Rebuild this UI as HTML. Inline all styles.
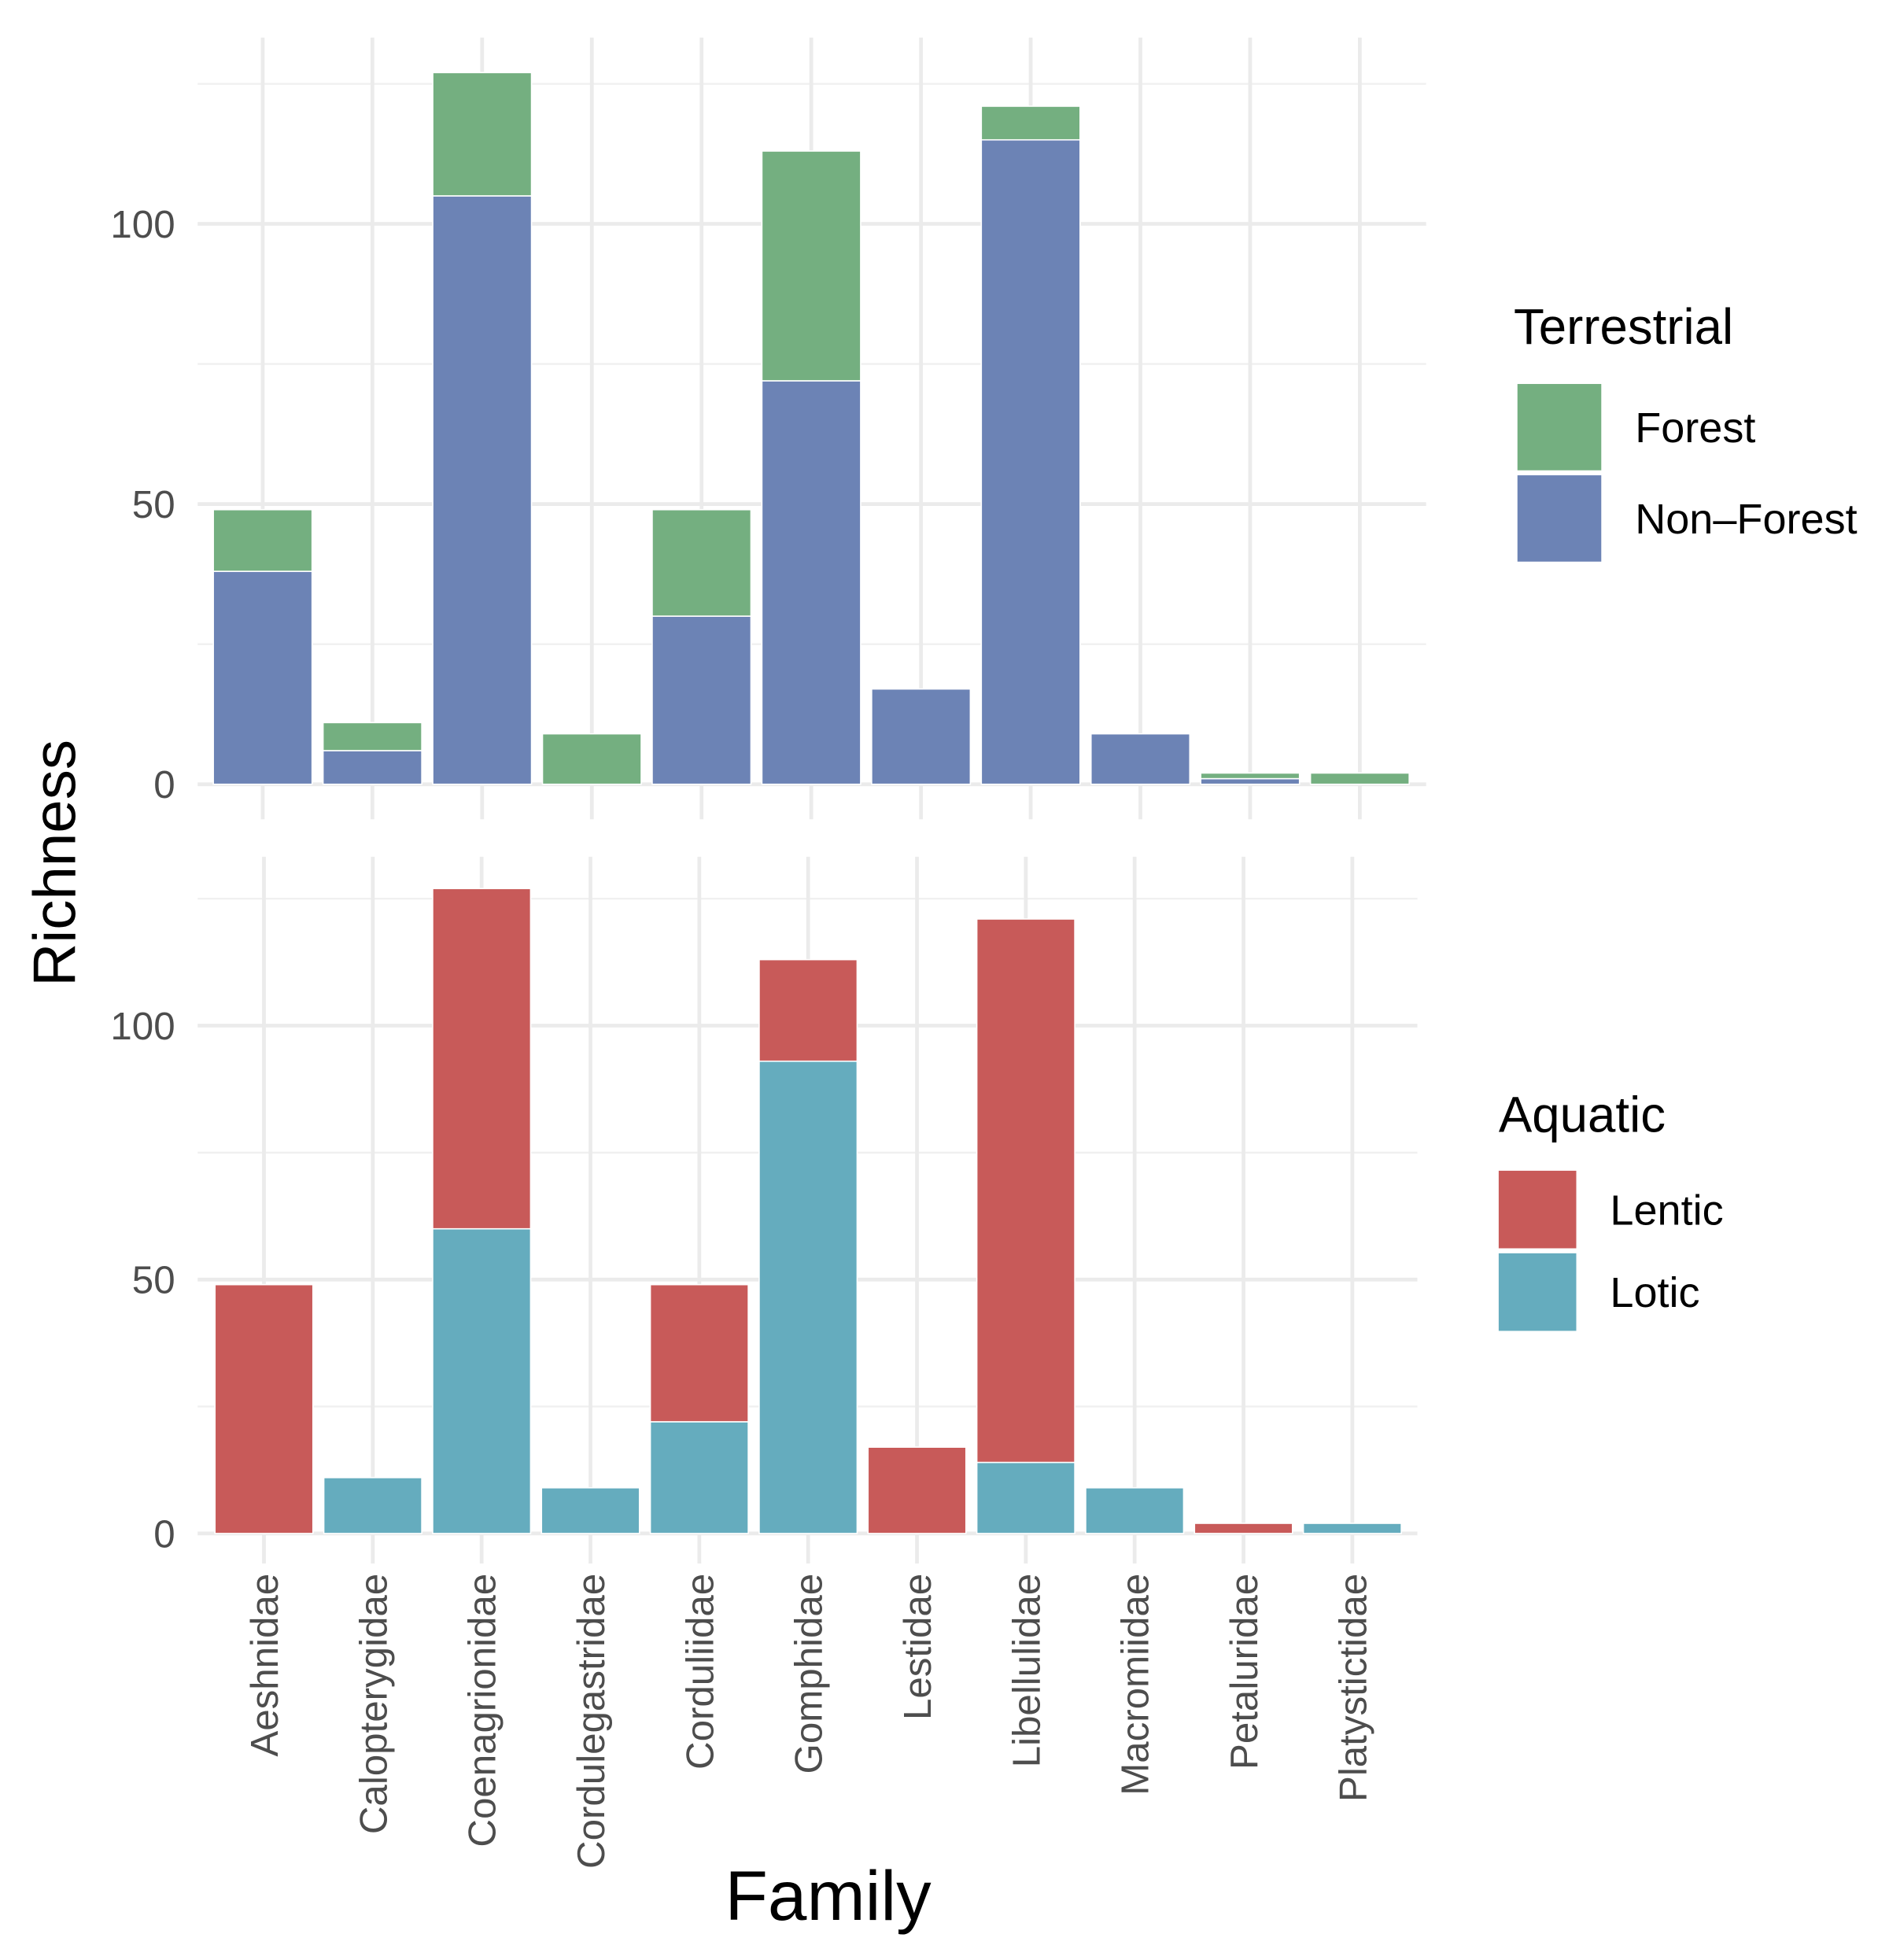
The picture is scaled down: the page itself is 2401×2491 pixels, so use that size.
<!DOCTYPE html>
<html><head><meta charset="utf-8"><style>html,body{margin:0;padding:0;background:#fff}svg{display:block}</style></head>
<body>
<svg id="chart" width="2401" height="2491" viewBox="0 0 1510 1567" preserveAspectRatio="none" xmlns="http://www.w3.org/2000/svg" font-family="Liberation Sans, sans-serif"></svg>
<script>
const families = ["Aeshnidae","Calopterygidae","Coenagrionidae","Cordulegastridae","Corduliidae","Gomphidae","Lestidae","Libellulidae","Macromiidae","Petaluridae","Platystictidae"];
const nonForest = [38,6,105,0,30,72,17,115,9,1,0];
const forest = [11,5,22,9,19,41,0,6,0,1,2];
const lotic = [0,11,60,9,22,93,0,14,9,0,2];
const lentic = [49,0,67,0,27,20,17,107,0,2,0];
const yTicks = [0,50,100];
const yMinor = [25,75,125];

const NS="http://www.w3.org/2000/svg";
const svg=document.getElementById('chart');
function mk(tag,attrs,parent,text){const e=document.createElementNS(NS,tag);for(const k in attrs)e.setAttribute(k,attrs[k]);if(text!==undefined)e.textContent=text;(parent||svg).appendChild(e);return e;}

function panel(cfg){
  const g=mk('g',{});
  
  
  const y=v=>cfg.y0-(v*cfg.pxPer);
  const x=i=>cfg.x0+i*cfg.step;
  yMinor.forEach(v=>{const l=mk('line',{x1:cfg.left,x2:cfg.right,y1:y(v),y2:y(v),stroke:'#f0f0f0','stroke-width':1.5},g);});
  yTicks.forEach(v=>{const l=mk('line',{x1:cfg.left,x2:cfg.right,y1:y(v),y2:y(v),stroke:'#ebebeb','stroke-width':3},g);
    const t=mk('text',{x:cfg.left-18,y:y(v)+11,'text-anchor':'end','font-size':31,fill:'#4d4d4d'},g,String(v));});
  families.forEach((f,i)=>{const l=mk('line',{x1:x(i),x2:x(i),y1:cfg.gTop,y2:cfg.gBot,stroke:'#ebebeb','stroke-width':3},g);});
  const w=cfg.step*0.9;
  families.forEach((f,i)=>{
    const a=cfg.lower[i], b=cfg.upper[i];
    if(a>0){const r=mk('rect',{x:x(i)-w/2,y:y(a),width:w,height:a*cfg.pxPer,fill:cfg.lowerColor,stroke:'#fff','stroke-width':1},g);}
    if(b>0){const r=mk('rect',{x:x(i)-w/2,y:y(a+b),width:w,height:b*cfg.pxPer,fill:cfg.upperColor,stroke:'#fff','stroke-width':1},g);}
  });
  const lg=mk('g',{},g);
  
  
  const lt=mk('text',{x:cfg.lx,y:cfg.ly,'font-size':40,fill:'#000'},lg,cfg.title);
  cfg.entries.forEach((en,k)=>{
    const top=cfg.ly+cfg.kOff+k*(cfg.kh+4);
    const r=mk('rect',{x:cfg.lx+cfg.kx,y:top,width:cfg.kw,height:cfg.kh,fill:en[1]},lg);
    const t=mk('text',{x:cfg.lx+cfg.kx+cfg.kw+27,y:top+cfg.kh/2+12,'font-size':34,fill:'#000'},lg,en[0]);
  });
  return {x};
}

panel({name:'terrestrial-panel',y0:627,pxPer:4.48,x0:210,step:87.7,left:158,right:1140,gTop:30,gBot:655,
  lower:nonForest,upper:forest,lowerColor:'#6c83b5',upperColor:'#74af80',lowerKey:'non-forest',upperKey:'forest',
  legendName:'terrestrial-legend',title:'Terrestrial',lx:1210,ly:275,kx:3,kOff:32,kw:67,kh:69,
  entries:[['Forest','#74af80'],['Non\u2013Forest','#6c83b5']]});
const bp=panel({name:'aquatic-panel',y0:1226,pxPer:4.06,x0:211,step:87,left:158,right:1133,gTop:685,gBot:1250,
  lower:lotic,upper:lentic,lowerColor:'#65acbe',upperColor:'#c85a59',lowerKey:'lotic',upperKey:'lentic',
  legendName:'aquatic-legend',title:'Aquatic',lx:1198,ly:905,kx:0,kOff:31,kw:62,kh:62,
  entries:[['Lentic','#c85a59'],['Lotic','#65acbe']]});

families.forEach((f,i)=>{
  const cx=bp.x(i)+11;
  const t=mk('text',{x:cx,y:1258,'text-anchor':'end','font-size':31,fill:'#4d4d4d',transform:`rotate(-90 ${cx} 1258)`},svg,f);
  
  
});
const yt=mk('text',{x:60,y:690,'text-anchor':'middle','font-size':48,fill:'#000',transform:'rotate(-90 60 690)'},svg,'Richness');


const xt=mk('text',{x:662,y:1535,'text-anchor':'middle','font-size':56,fill:'#000'},svg,'Family');


</script>
</body></html>
